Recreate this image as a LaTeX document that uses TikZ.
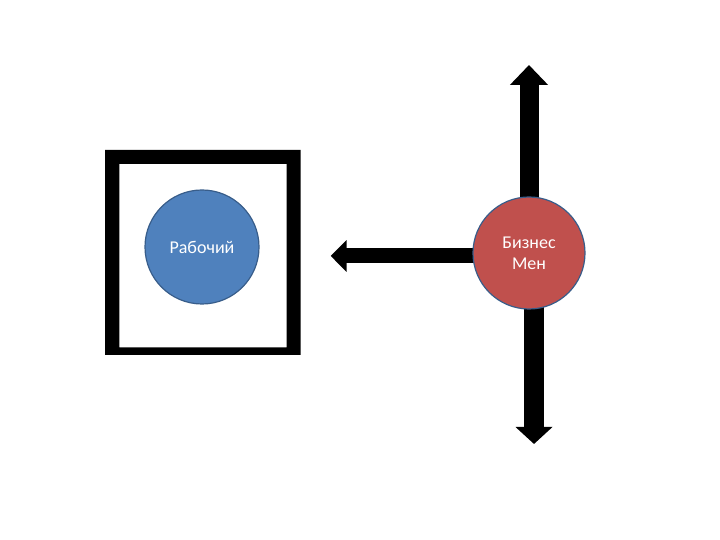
\documentclass[tikz,border=0pt]{standalone}
\usepackage{fontspec}
\setmainfont{Carlito}
\usetikzlibrary{arrows.meta}
\definecolor{bluefill}{HTML}{4F81BD}
\definecolor{redfill}{HTML}{C0504D}
\definecolor{shapeline}{HTML}{385D8A}
\tikzset{
  person/.style={circle, draw=shapeline, line width=1.2pt, inner sep=0pt,
    text=white, font=\fontsize{18}{21}\selectfont, align=center},
  bigarrow/.style={line width=#1, line cap=butt, draw=black},
}
\begin{document}
\begin{tikzpicture}[x=1pt,y=1pt]
\useasboundingbox (0,0) rectangle (720,540);
% frame
\fill[black, even odd rule] (105,185) rectangle (300.7,390)
  (119.3,192.7) rectangle (286.7,376);
% arrows behind business circle
\coordinate (upstart) at (529,287);
\coordinate (uptip) at (529,475);
\coordinate (leftstart) at (500,284);
\coordinate (lefttip) at (330.7,284);
\coordinate (downstart) at (534,287);
\coordinate (downtip) at (534,96);
\draw[bigarrow=19pt, -{Triangle[length=20pt 0 0, width=37pt 0 0]}] (upstart) -- (uptip);
\draw[bigarrow=15pt, -{Triangle[length=16pt 0 0, width=31pt 0 0]}] (leftstart) -- (lefttip);
\draw[bigarrow=20pt, -{Triangle[length=17pt 0 0, width=36pt 0 0]}] (downstart) -- (downtip);
% circles
\node[person, fill=bluefill, minimum size=114pt] (worker) at (202,293) {Рабочий};
\node[person, fill=redfill, minimum size=112pt] (bm) at (529,287) {Бизнес\\Мен};
\end{tikzpicture}
\end{document}
